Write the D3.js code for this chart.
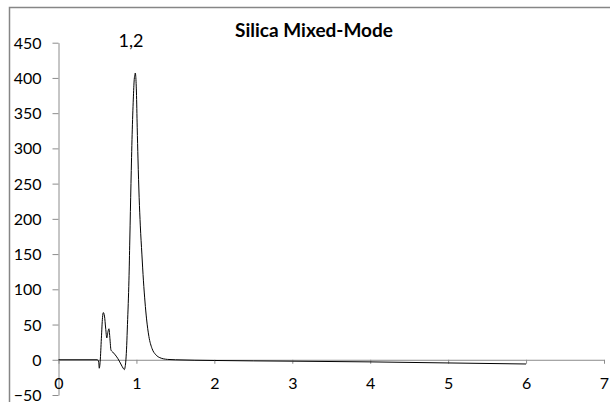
<!DOCTYPE html>
<html>
<head>
<meta charset="utf-8">
<script src="https://cdn.jsdelivr.net/npm/d3@7"></script>
<style>
  body { margin: 0; background: #fff; }
  svg { display: block; font-family: Lato, "Open Sans", sans-serif; }
  .axis path, .axis line { stroke: #8c8c8c; }
  .axis text { fill: #000; font-size: 16px; font-family: Lato, sans-serif; }
</style>
</head>
<body>
<svg width="610" height="402"></svg>
<script>
// chromatogram trace
var times = [0, 0.50, 0.515, 0.523, 0.535, 0.55, 0.565, 0.575, 0.59, 0.605, 0.62, 0.635, 0.647, 0.66, 0.673, 0.695,
  0.72, 0.76, 0.80, 0.83, 0.845, 0.855, 0.865, 0.875, 0.885, 0.895, 0.904, 0.915, 0.93, 0.945, 0.96, 0.972,
  0.98, 0.985, 0.99, 1.0, 1.01, 1.02, 1.035, 1.05, 1.07, 1.09, 1.11, 1.13, 1.16, 1.20, 1.25,
  1.30, 1.4, 1.5, 2, 3, 4, 5, 6];
var signal = [0, 0, -3, -12, -2, 30, 60, 67, 62, 45, 31, 40, 44, 30, 14, 11,
  8, 2, -6, -12, -14, -10, 0, 20, 50, 80, 113, 170, 250, 320, 370, 398,
  404, 407, 404, 380, 330, 285, 230, 190, 150, 112, 82, 58, 33, 16, 7,
  3, 0.5, 0, -1, -2, -3, -4.5, -6];
var xTicks = [0, 1, 2, 3, 4, 5, 6, 7];
var yTicks = [-50, 0, 50, 100, 150, 200, 250, 300, 350, 400, 450];
var chartTitle = "Silica Mixed-Mode";
var peakLabel = "1,2";

var data = times.map(function (t, i) { return {t: t, v: signal[i]}; });

var svg = d3.select("svg");

// outer chart frame (only top and left edges are visible)
svg.append("rect")
  .attr("x", 9.5).attr("y", 7.5)
  .attr("width", 620).attr("height", 420)
  .attr("fill", "none").attr("stroke", "#868686").attr("stroke-width", 1.5);

var x = d3.scaleLinear().domain([0, 7]).range([58.5, 604]);
var y = d3.scaleLinear().domain([-50, 450]).range([395, 42.7]);

svg.append("g")
  .attr("class", "axis")
  .attr("transform", "translate(" + x(0) + ",0)")
  .call(d3.axisLeft(y).tickValues(yTicks).tickSize(6).tickSizeOuter(0).tickPadding(11).tickFormat(d3.format("d")))
  .call(function (g) { g.selectAll("text").attr("dy", "0.35em"); });

var xAxis = svg.append("g")
  .attr("class", "axis")
  .attr("transform", "translate(0," + y(0) + ")")
  .call(d3.axisBottom(x).tickValues(xTicks).tickSize(4).tickSizeOuter(0).tickFormat(d3.format("d")));
xAxis.selectAll("text").attr("y", 18);

var line = d3.line()
  .x(function (d) { return x(d.t); })
  .y(function (d) { return y(d.v); })
  .curve(d3.curveMonotoneX);

svg.append("path")
  .datum(data)
  .attr("fill", "none")
  .attr("stroke", "#000")
  .attr("stroke-width", 1)
  .attr("d", line);

svg.append("text")
  .attr("x", 314).attr("y", 37)
  .attr("text-anchor", "middle")
  .attr("font-size", 19).attr("font-weight", "bold")
  .text(chartTitle);

svg.append("text")
  .attr("x", 131).attr("y", 47)
  .attr("text-anchor", "middle")
  .attr("font-size", 18)
  .text(peakLabel);
</script>
</body>
</html>
